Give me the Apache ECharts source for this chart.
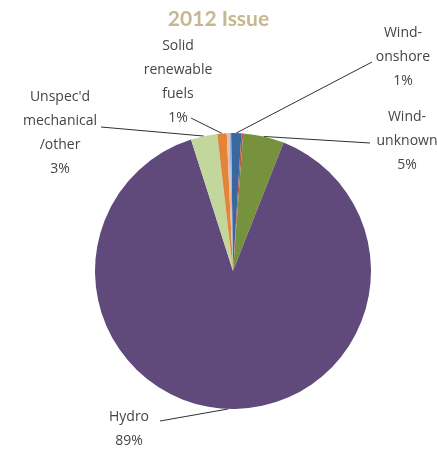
<!DOCTYPE html>
<html><head><meta charset="utf-8">
<script src="https://cdn.jsdelivr.net/npm/echarts@6/dist/echarts.min.js"></script>
<style>html,body{margin:0;padding:0;background:#fff}#c{width:437px;height:449px}</style>
</head><body><div id="c"></div>
<script>
const categories = ["Wind-\nonshore", "Wind-offshore", "Wind-\nunknown", "Hydro", "Unspec'd\nmechanical\n/other", "Solid\nrenewable\nfuels", "Biogas", "Other"];
const values = [1.2, 0.2, 4.8, 89.1, 3.1, 1.1, 0.3, 0.2];
const percentLabels = ["1%", "", "5%", "89%", "3%", "1%", "", ""];
const colors = ["#3b67a0", "#c0504d", "#76923c", "#5f4a7b", "#c3d69b", "#e0853a", "#f4b99a", "#8eb4e3"];

// label placement (style)
const labelPos = {
  0: {x: 403, y: 57, end: [372, 62]},
  2: {x: 407, y: 141, end: [370, 143]},
  3: {x: 129, y: 429, end: [160, 421]},
  4: {x: 60, y: 133, end: [101, 127]},
  5: {x: 178, y: 82, end: [191, 118]}
};

const chart = echarts.init(document.getElementById('c'), null, {renderer: 'canvas'});
chart.setOption({
  animation: false,
  title: {
    text: '2012 Issue', left: 'center', top: 4,
    textStyle: {fontFamily: 'Lato', fontWeight: 'bold', fontSize: 21, color: '#c6b790'}
  },
  series: [{
    type: 'pie',
    center: [233, 271],
    radius: 138,
    startAngle: 90.8,
    clockwise: true,
    avoidLabelOverlap: false,
    itemStyle: {borderWidth: 0},
    label: {
      show: true,
      fontFamily: 'Open Sans', fontSize: 14, color: '#454545', lineHeight: 24,
      align: 'center',
      formatter: p => p.name + '\n' + percentLabels[p.dataIndex]
    },
    labelLine: {show: true, lineStyle: {color: '#303030', width: 1}, smooth: false},
    labelLayout: function (params) {
      const lp = labelPos[params.dataIndex];
      if (!lp) return {};
      const start = params.labelLinePoints ? params.labelLinePoints[0] : lp.end;
      return {
        x: lp.x, y: lp.y, align: 'center', verticalAlign: 'middle',
        labelLinePoints: [start, lp.end, lp.end]
      };
    },
    data: categories.map((n, i) => {
      const d = {name: n, value: values[i], itemStyle: {color: colors[i]}};
      if (!percentLabels[i]) { d.label = {show: false}; d.labelLine = {show: false}; }
      return d;
    })
  }]
});
</script></body></html>
